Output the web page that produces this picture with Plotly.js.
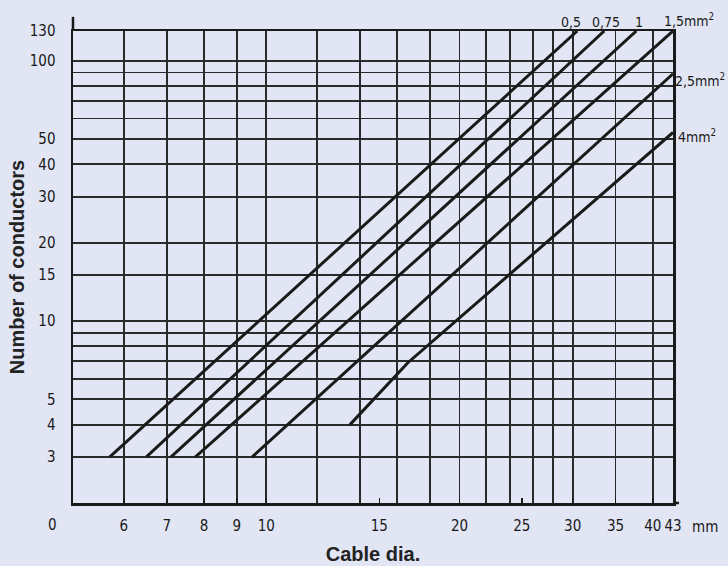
<!DOCTYPE html>
<html>
<head>
<meta charset="utf-8">
<script src="https://cdn.plot.ly/plotly-3.0.1.min.js"></script>
<style>
  html, body { margin: 0; padding: 0; background: #e1e5f4; }
  #chart { width: 728px; height: 566px; }
</style>
</head>
<body>
<div id="chart"></div>
<script>
// ---- data (cable diameter in mm vs number of conductors) ----
const seriesNames = ['0,5', '0,75', '1', '1,5', '2,5', '4'];
const dia_0_5  = [5.7, 30.5];
const cond_0_5 = [3, 130];
const dia_0_75  = [6.5, 33.6];
const cond_0_75 = [3, 130];
const dia_1  = [7.1, 37.7];
const cond_1 = [3, 130];
const dia_1_5  = [7.75, 43];
const cond_1_5 = [3, 130];
const dia_2_5  = [9.5, 43];
const cond_2_5 = [3, 89];
const dia_4  = [13.5, 16.6, 43];
const cond_4 = [4, 6.9, 53];

// axis ticks / labels
const xTickVals = [6, 7, 8, 9, 10, 15, 20, 25, 30, 35, 40, 43];
const xTickText = ['6', '7', '8', '9', '10', '15', '20', '25', '30', '35', '40', '43'];
const xGridVals = [6, 7, 8, 9, 10, 12, 14, 16, 18, 20, 22, 24, 26, 28, 30, 35, 40, 43];
const yTickVals = [3, 4, 5, 10, 15, 20, 30, 40, 50, 100, 130];
const yTickText = ['3', '4', '5', '10', '15', '20', '30', '40', '50', '100', '130'];
const yGridVals = [3, 4, 5, 6, 7, 8, 9, 10, 15, 20, 30, 40, 50, 60, 70, 80, 90, 100, 130];

const xs = [dia_0_5, dia_0_75, dia_1, dia_1_5, dia_2_5, dia_4];
const ys = [cond_0_5, cond_0_75, cond_1, cond_1_5, cond_2_5, cond_4];

const ink = '#1a1a1a';
const gridInk = '#2a2a2a';
const narrow = '"Liberation Sans Narrow", "DejaVu Sans Condensed", "Arial Narrow", sans-serif';
const bold = '"Liberation Sans", Arial, Helvetica, sans-serif';

const traces = seriesNames.map((name, i) => ({
  type: 'scatter',
  mode: 'lines',
  name: name + ' mm²',
  x: xs[i],
  y: ys[i],
  line: { color: ink, width: 3 },
  hoverinfo: 'x+y+name'
}));

const labelFont = { family: narrow, size: 15, color: ink };
const sizeFont = { family: narrow, size: 14, color: ink };

const annotations = [
  { text: '0,5', x: 571, y: 22, a: 'center', f: sizeFont },
  { text: '0,75', x: 606, y: 22, a: 'center', f: sizeFont },
  { text: '1', x: 639, y: 22, a: 'center', f: sizeFont },
  { text: '1,5mm<sup>2</sup>', x: 662, y: 20, a: 'left', f: sizeFont },
  { text: '2,5mm<sup>2</sup>', x: 727, y: 80, a: 'right', f: sizeFont },
  { text: '4mm<sup>2</sup>', x: 676, y: 136, a: 'left', f: sizeFont },
  { text: '0', x: 52, y: 525, a: 'center', f: labelFont },
  { text: 'mm', x: 690, y: 527, a: 'left', f: labelFont }
].map(a => ({
  text: a.text,
  xref: 'paper', yref: 'paper',
  x: (a.x - 73) / 600,
  y: (503 - a.y) / 472,
  xanchor: a.a, yanchor: 'middle',
  showarrow: false,
  font: a.f
}));

const layout = {
  width: 728,
  height: 566,
  paper_bgcolor: '#e1e5f4',
  plot_bgcolor: '#e1e5f4',
  margin: { l: 73, r: 55, t: 31, b: 63 },
  showlegend: false,
  xaxis: {
    type: 'log',
    range: [Math.log10(5), Math.log10(43)],
    tickmode: 'array',
    tickvals: xTickVals,
    ticktext: xTickText,
    ticks: 'inside',
    ticklen: 5,
    tickwidth: 1.5,
    tickcolor: ink,
    ticklabelstandoff: 7,
    showgrid: false,
    minor: {
      tickmode: 'array',
      tickvals: xGridVals,
      showgrid: true,
      gridcolor: gridInk,
      gridwidth: 1.8,
      ticks: ''
    },
    showline: true,
    linecolor: ink,
    linewidth: 2.5,
    mirror: true,
    zeroline: false,
    tickfont: labelFont,
    title: {
      text: 'Cable dia.',
      font: { family: bold, size: 20, color: '#222', weight: 'bold' },
      standoff: 14
    },
    fixedrange: true
  },
  yaxis: {
    type: 'log',
    range: [Math.log10(2), Math.log10(130)],
    tickmode: 'array',
    tickvals: yTickVals,
    ticktext: yTickText,
    ticks: '',
    ticklabelstandoff: 12,
    showgrid: true,
    gridcolor: gridInk,
    gridwidth: 1.8,
    minor: {
      tickmode: 'array',
      tickvals: yGridVals,
      showgrid: true,
      gridcolor: gridInk,
      gridwidth: 1.8,
      ticks: ''
    },
    showline: true,
    linecolor: ink,
    linewidth: 2.5,
    mirror: true,
    zeroline: false,
    tickfont: labelFont,
    title: {
      text: 'Number of conductors',
      font: { family: bold, size: 20, color: '#222', weight: 'bold' },
      standoff: 0
    },
    fixedrange: true
  },
  shapes: [
    { type: 'line', xref: 'paper', yref: 'paper', x0: 0, x1: 0, y0: 1, y1: 1.03,
      line: { color: ink, width: 2.5 } },
    { type: 'line', xref: 'paper', yref: 'paper', x0: 1, x1: 1.01, y0: 0, y1: 0,
      line: { color: ink, width: 2.5 } }
  ],
  annotations: annotations
};

Plotly.newPlot('chart', traces, layout, { displayModeBar: false, staticPlot: true });
</script>
</body>
</html>
